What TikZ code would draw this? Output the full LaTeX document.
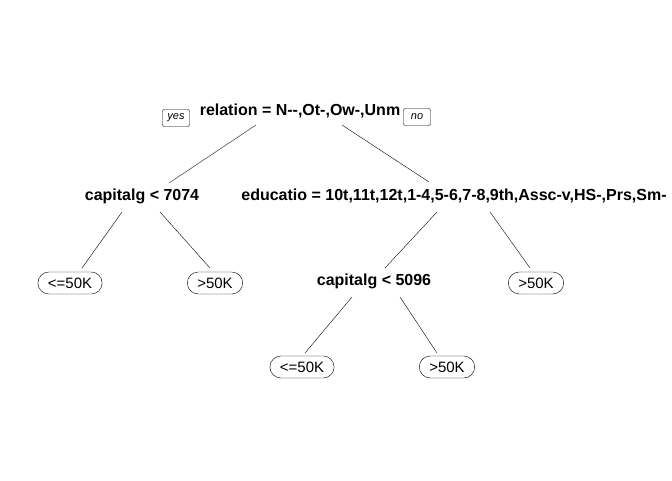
\documentclass[tikz,border=0pt]{standalone}
\usepackage{fontspec}
\setmainfont{Liberation Sans}
\begin{document}
\begin{tikzpicture}[x=1pt,y=-1pt]
\tikzstyle{split}=[font=\fontsize{16}{18}\selectfont\bfseries,inner sep=7pt];
\tikzstyle{leaf}=[draw,rounded corners=11pt,font=\fontsize{15}{17}\selectfont,inner xsep=10pt,inner ysep=0pt,minimum height=22pt];
\tikzstyle{answer}=[draw,rounded corners=2pt,font=\fontsize{11}{13}\selectfont\itshape,inner sep=0pt,minimum width=27pt,minimum height=17pt];
\tikzstyle{edge}=[thin];
\useasboundingbox (0,0) rectangle (672,480);
\node (root) [split] at (300,111) {relation = N{-}{-},Ot-,Ow-,Unm};
\node (yes) [answer] at (176,118) {yes};
\node (no) [answer] at (417,117) {no};
\node (cap1) [split] at (142,196) {capitalg < 7074};
\node (edu) [split] at (454,196) {educatio = 10t,11t,12t,1-4,5-6,7-8,9th,Assc-v,HS-,Prs,Sm-};
\node (l1) [leaf] at (70,283) {<=50K};
\node (l2) [leaf] at (215,283) {>50K};
\node (cap2) [split] at (374,281) {capitalg < 5096};
\node (l5) [leaf] at (536,283) {>50K};
\node (l3) [leaf] at (302,367) {<=50K};
\node (l4) [leaf] at (447,367) {>50K};
% branches start below the split text and stop above the child
\draw [edge] ([xshift=-44pt,yshift=-14pt]root.center) -- ([xshift=27pt,yshift=13pt]cap1.center);
\draw [edge] ([xshift=42pt,yshift=-14pt]root.center) -- ([xshift=-25pt,yshift=14pt]edu.center);
\draw [edge] ([xshift=-20pt,yshift=-16pt]cap1.center) -- ([xshift=12pt,yshift=15pt]l1.center);
\draw [edge] ([xshift=18pt,yshift=-16pt]cap1.center) -- ([xshift=-5pt,yshift=15pt]l2.center);
\draw [edge] ([xshift=-17pt,yshift=-16pt]edu.center) -- ([xshift=11pt,yshift=13pt]cap2.center);
\draw [edge] ([xshift=36pt,yshift=-16pt]edu.center) -- ([xshift=-6pt,yshift=15pt]l5.center);
\draw [edge] ([xshift=-22pt,yshift=-16pt]cap2.center) -- ([xshift=3pt,yshift=14pt]l3.center);
\draw [edge] ([xshift=26pt,yshift=-16pt]cap2.center) -- ([xshift=-10pt,yshift=14pt]l4.center);
\end{tikzpicture}
\end{document}
